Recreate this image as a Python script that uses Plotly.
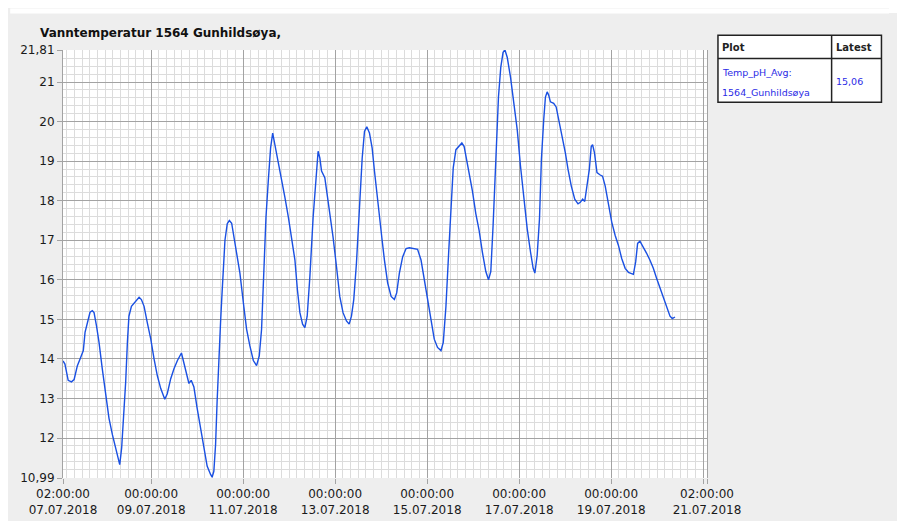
import pandas as pd
import plotly.graph_objects as go

# ---------------- data ----------------
start = "2018-07-07 00:00"
hours = [2.0, 3.0, 4.7, 6.4, 7.8, 9.5, 10.9, 12.6, 13.5, 14.7, 16.1, 17.3, 18.2, 19.5, 20.8, 22.5,
         24.3, 26.0, 27.8, 29.5, 30.7, 31.6, 32.6, 33.8, 34.7, 35.6, 36.4, 37.7, 39.1, 40.5, 41.7,
         42.9, 44.3, 46.0, 47.8, 49.5, 51.2, 53.0, 55.1, 56.4, 58.2, 59.9, 61.7, 63.8, 64.8, 66.5,
         67.7, 68.9, 70.3, 72.0, 73.8, 75.5, 77.2, 79.0, 79.8, 80.7, 81.6, 82.4, 83.3, 84.2, 84.8,
         85.7, 86.5, 87.7, 88.8, 90.0, 91.2, 92.6, 94.3, 96.1, 97.8, 99.5, 101.3, 103.0, 104.4,
         105.6, 106.8, 107.9, 109.1, 110.3, 111.4, 112.6, 114.3, 116.1, 117.8, 119.6, 120.8, 122.2,
         123.0, 124.3, 125.6, 127.0, 128.2, 129.4, 130.8, 132.5, 133.9, 135.1, 136.0, 136.9, 138.6,
         139.8, 141.2, 142.9, 144.7, 146.4, 148.1, 149.9, 151.3, 152.5, 153.7, 155.1, 156.6, 158.1,
         159.3, 160.5, 161.9, 163.3, 164.5, 165.7, 167.1, 168.5, 169.7, 171.4, 173.2, 174.9, 176.1,
         177.5, 179.2, 181.0, 182.7, 185.3, 187.0, 188.8, 190.5, 192.2, 194.0, 195.7, 197.4, 199.2,
         200.4, 201.8, 203.2, 204.4, 205.6, 207.0, 208.7, 210.1, 211.3, 212.5, 213.9, 215.6, 217.4,
         219.1, 220.8, 222.6, 224.0, 225.2, 226.4, 227.8, 229.2, 230.4, 231.6, 232.6, 233.8, 235.5,
         237.3, 239.0, 240.7, 242.5, 244.2, 245.9, 247.3, 248.2, 249.4, 250.6, 251.6, 252.8, 253.7,
         254.6, 255.4, 256.3, 258.0, 259.3, 260.6, 262.4, 264.1, 265.5, 267.2, 269.0, 270.7, 271.9,
         273.1, 274.2, 275.4, 276.6, 277.6, 278.3, 279.3, 280.6, 282.3, 283.5, 284.9, 286.6, 288.3,
         290.1, 291.8, 293.5, 295.3, 297.0, 299.6, 300.8, 301.8, 303.0, 304.8, 306.5, 308.2, 310.0,
         311.7, 313.5, 315.2, 316.9, 318.7, 319.9, 321.3]
temps = [13.95, 13.87, 13.46, 13.42, 13.48, 13.83, 14.00, 14.21, 14.67, 14.91, 15.18, 15.22, 15.17,
         14.83, 14.42, 13.75, 13.08, 12.50, 12.08, 11.71, 11.46, 11.33, 11.75, 12.58, 13.42, 14.42,
         15.08, 15.33, 15.42, 15.50, 15.56, 15.50, 15.33, 14.91, 14.50, 14.00, 13.58, 13.25, 12.98,
         13.12, 13.50, 13.75, 13.96, 14.15, 13.96, 13.58, 13.38, 13.46, 13.29, 12.75, 12.25, 11.67,
         11.29, 11.08, 11.01, 11.16, 11.83, 12.92, 14.17, 14.92, 15.50, 16.17, 17.00, 17.42, 17.50,
         17.43, 17.08, 16.67, 16.17, 15.42, 14.75, 14.33, 13.96, 13.83, 14.08, 14.75, 16.17, 17.58,
         18.50, 19.33, 19.71, 19.42, 18.92, 18.50, 18.08, 17.58, 17.21, 16.79, 16.50, 15.75, 15.17,
         14.88, 14.79, 15.08, 16.08, 17.58, 18.58, 19.25, 19.08, 18.75, 18.58, 18.17, 17.58, 17.08,
         16.33, 15.58, 15.17, 14.96, 14.88, 15.08, 15.50, 16.42, 17.75, 19.08, 19.75, 19.87, 19.71,
         19.33, 18.75, 18.17, 17.58, 17.00, 16.50, 15.92, 15.58, 15.50, 15.67, 16.17, 16.58, 16.79,
         16.81, 16.79, 16.77, 16.50, 16.00, 15.50, 14.92, 14.50, 14.29, 14.21, 14.42, 15.33, 16.67,
         17.83, 18.83, 19.29, 19.37, 19.46, 19.37, 19.08, 18.67, 18.25, 17.67, 17.25, 16.70, 16.21,
         16.00, 16.21, 17.38, 19.04, 20.62, 21.37, 21.75, 21.81, 21.62, 21.12, 20.46, 19.79, 18.87,
         18.04, 17.29, 16.71, 16.29, 16.17, 16.62, 17.54, 19.04, 20.04, 20.62, 20.75, 20.67, 20.50,
         20.46, 20.37, 20.08, 19.62, 19.21, 18.79, 18.37, 18.04, 17.92, 17.96, 18.04, 17.98, 18.37,
         18.79, 19.37, 19.42, 19.21, 18.71, 18.65, 18.62, 18.37, 17.87, 17.46, 17.12, 16.87, 16.54,
         16.29, 16.19, 16.14, 16.46, 16.92, 16.98, 16.83, 16.67, 16.50, 16.29, 16.04, 15.79, 15.54,
         15.29, 15.08, 15.02, 15.06]

x_tickvals = ["2018-07-07 02:00", "2018-07-09 00:00", "2018-07-11 00:00", "2018-07-13 00:00",
              "2018-07-15 00:00", "2018-07-17 00:00", "2018-07-19 00:00", "2018-07-21 00:00",
              "2018-07-21 02:00"]
x_ticktext = ["02:00:00<br>07.07.2018", "00:00:00<br>09.07.2018", "00:00:00<br>11.07.2018",
              "00:00:00<br>13.07.2018", "00:00:00<br>15.07.2018", "00:00:00<br>17.07.2018",
              "00:00:00<br>19.07.2018", "", "02:00:00<br>21.07.2018"]
y_tickvals = [10.99, 12, 13, 14, 15, 16, 17, 18, 19, 20, 21, 21.81]
y_ticktext = ["10,99", "12", "13", "14", "15", "16", "17", "18", "19", "20", "21", "21,81"]

title_text = "Vanntemperatur 1564 Gunhildsøya,"
series_name = "Temp_pH_Avg:"
series_station = "1564_Gunhildsøya"
latest_text = "15,06"

# ---------------- figure ----------------
OFF = 8  # page body margin (screen px)
W, H = 897, 521
# plot area in screen pixels
SL, SR, ST, SB = 61, 707, 50, 484
L, R, T, B = SL - OFF, SR - OFF, ST - OFF, SB - OFF


def px(xs):
    return (xs - SL) / (SR - SL)


def py(ys):
    return 1 - (ys - ST) / (SB - ST)


times = pd.Timestamp(start) + pd.to_timedelta(hours, unit="h")

fig = go.Figure()
fig.add_trace(go.Scatter(x=times, y=temps, mode="lines",
                         line=dict(color="#1a50e2", width=1.4),
                         showlegend=False, hoverinfo="skip"))

font = "DejaVu Sans"
fig.update_layout(
    width=W, height=H,
    margin=dict(l=L, r=W - R, t=T, b=H - B, pad=0),
    paper_bgcolor="#EEEEEE",
    plot_bgcolor="#FFFFFF",
    font=dict(family=font, size=12, color="#1a1a1a"),
    showlegend=False,
)

fig.update_xaxes(
    type="date",
    range=["2018-07-07 02:00", "2018-07-21 02:00"],
    tickmode="array", tickvals=x_tickvals, ticktext=x_ticktext,
    showgrid=True, gridcolor="#A3A3A3", gridwidth=1,
    ticks="outside", ticklen=5, tickcolor="#A3A3A3",
    tickfont=dict(family=font, size=12, color="#1a1a1a"),
    showline=False, zeroline=False,
    minor=dict(tick0="2018-07-07 00:00", dtick=4 * 3600 * 1000, showgrid=True,
               gridcolor="#DCDCDC", gridwidth=1, ticks=""),
)
fig.update_yaxes(
    range=[10.99, 21.81],
    tickmode="array", tickvals=y_tickvals, ticktext=y_ticktext,
    showgrid=True, gridcolor="#A3A3A3", gridwidth=1,
    ticks="outside", ticklen=5, tickcolor="#A3A3A3",
    tickfont=dict(family=font, size=12, color="#1a1a1a"),
    showline=True, linecolor="#A3A3A3", linewidth=1, mirror=True,
    zeroline=False,
    minor=dict(tick0=0, dtick=0.2, showgrid=True, gridcolor="#DCDCDC", gridwidth=1, ticks=""),
)

shapes = [
    # white strip above the grey panel
    dict(type="rect", xref="paper", yref="paper", x0=px(OFF), x1=px(OFF + W), y0=py(13), y1=py(OFF),
         fillcolor="#FFFFFF", line=dict(width=0), layer="below"),
    # table
    dict(type="rect", xref="paper", yref="paper", x0=px(718), x1=px(882), y0=py(103), y1=py(35),
         fillcolor="#FFFFFF", line=dict(color="#222222", width=1.5)),
    dict(type="line", xref="paper", yref="paper", x0=px(718), x1=px(882), y0=py(58.5), y1=py(58.5),
         line=dict(color="#222222", width=1.5)),
    dict(type="line", xref="paper", yref="paper", x0=px(832), x1=px(832), y0=py(103), y1=py(35),
         line=dict(color="#222222", width=1.5)),
]
fig.update_layout(shapes=shapes)

annotations = [
    dict(text="<b>" + title_text + "</b>", x=px(36), y=py(33), xanchor="left", yanchor="middle",
         font=dict(family=font, size=12, color="#111111")),
    dict(text="<b>Plot</b>", x=px(720), y=py(47), xanchor="left", yanchor="middle",
         font=dict(family=font, size=10, color="#222222")),
    dict(text="<b>Latest</b>", x=px(834), y=py(47), xanchor="left", yanchor="middle",
         font=dict(family=font, size=10, color="#222222")),
    dict(text=series_name, x=px(720), y=py(73), xanchor="left", yanchor="middle",
         font=dict(family=font, size=9.5, color="#2b2be6")),
    dict(text=series_station, x=px(720), y=py(93), xanchor="left", yanchor="middle",
         font=dict(family=font, size=9.5, color="#2b2be6")),
    dict(text=latest_text, x=px(834), y=py(82), xanchor="left", yanchor="middle",
         font=dict(family=font, size=9.5, color="#2b2be6")),
]
for a in annotations:
    a.update(xref="paper", yref="paper", showarrow=False)
fig.update_layout(annotations=annotations)

page_bg = ("linear-gradient(to bottom, #FFFFFF 0px, #FFFFFF 13px, rgba(0,0,0,0) 13px), "
           "linear-gradient(to right, #FFFFFF 0px, #FFFFFF 8px, #EEEEEE 8px)")
fig.write_html(
    "out.html",
    config={"displayModeBar": False},
    post_script="document.documentElement.style.background='" + page_bg + "';"
                "document.documentElement.style.overflow='hidden';",
)
